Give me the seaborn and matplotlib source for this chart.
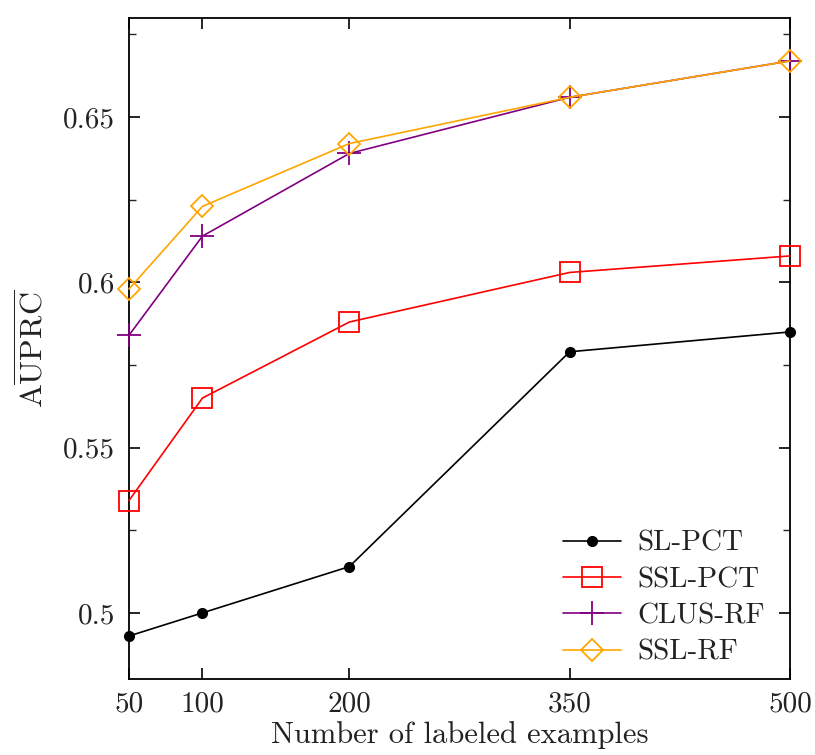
import matplotlib
matplotlib.use("Agg")
import matplotlib.pyplot as plt
import seaborn as sns
import pandas as pd
from matplotlib.ticker import FixedLocator

# Number of labeled examples
n_labeled = [50, 100, 200, 350, 500]

# AUPRC per method
sl_pct = [0.493, 0.500, 0.514, 0.579, 0.585]
ssl_pct = [0.534, 0.565, 0.588, 0.603, 0.608]
clus_rf = [0.584, 0.614, 0.639, 0.656, 0.667]
ssl_rf = [0.598, 0.623, 0.642, 0.656, 0.667]

methods = ["SL-PCT", "SSL-PCT", "CLUS-RF", "SSL-RF"]
values = [sl_pct, ssl_pct, clus_rf, ssl_rf]

sns.set_theme(style="white")
plt.rcParams["font.family"] = ["cmr10", "DejaVu Serif"]
plt.rcParams["mathtext.fontset"] = "cm"
plt.rcParams["axes.formatter.use_mathtext"] = True

frames = []
for m, v in zip(methods, values):
    frames.append(pd.DataFrame({"n": n_labeled, "auprc": v, "method": m}))
df = pd.concat(frames, ignore_index=True)

styles = {
    "SL-PCT": dict(color="black", marker="o", markersize=7, mfc="black", mec="black", mew=1.0),
    "SSL-PCT": dict(color="#ff0000", marker="s", markersize=14, mfc="none", mec="#ff0000", mew=1.3),
    "CLUS-RF": dict(color="#800080", marker="+", markersize=17, mec="#800080", mew=1.3),
    "SSL-RF": dict(color="#ffa500", marker="D", markersize=11, mfc="none", mec="#ffa500", mew=1.3),
}

FS = 21

fig = plt.figure(figsize=(8.15, 7.55), dpi=100)
ax = fig.add_axes([0.1583, 0.1007, 0.811, 0.8755])

for m in methods:
    sub = df[df["method"] == m]
    st = styles[m]
    sns.lineplot(data=sub, x="n", y="auprc", ax=ax, label=m, linewidth=1.2,
                 clip_on=False, zorder=3, **st)

ax.set_xlim(50, 500)
ax.set_ylim(0.48, 0.68)
ax.set_xticks(n_labeled)
ax.set_xticklabels([str(v) for v in n_labeled])
ax.set_yticks([0.5, 0.55, 0.6, 0.65])
ax.set_yticklabels(["0.5", "0.55", "0.6", "0.65"])
ax.yaxis.set_minor_locator(FixedLocator([0.525, 0.575, 0.625, 0.675]))

for side in ["left", "right", "top", "bottom"]:
    ax.spines[side].set_visible(True)
    ax.spines[side].set_color("black")
    ax.spines[side].set_linewidth(1.3)

ax.tick_params(axis="both", which="major", direction="in", length=8, width=1.2,
               labelsize=FS, colors="black", labelcolor="#222222",
               top=True, right=True, bottom=True, left=True)
ax.tick_params(axis="y", which="minor", direction="in", length=5, width=1.0,
               left=True, right=True)
ax.tick_params(axis="x", pad=9)
ax.tick_params(axis="y", pad=10)

ax.set_xlabel("Number of labeled examples", fontsize=FS + 1, color="#222222", labelpad=2)
ax.set_ylabel(r"$\mathrm{A}\overline{\mathrm{UPRC}}$", fontsize=FS + 2, color="#222222", labelpad=10)

leg = ax.legend(loc="lower right", bbox_to_anchor=(0.982, 0.0), frameon=False,
                fontsize=FS, handlelength=2.0, borderaxespad=0.05,
                labelspacing=0.34, handletextpad=0.55)
for t in leg.get_texts():
    t.set_color("#222222")

fig.savefig("out.png", dpi=100)
